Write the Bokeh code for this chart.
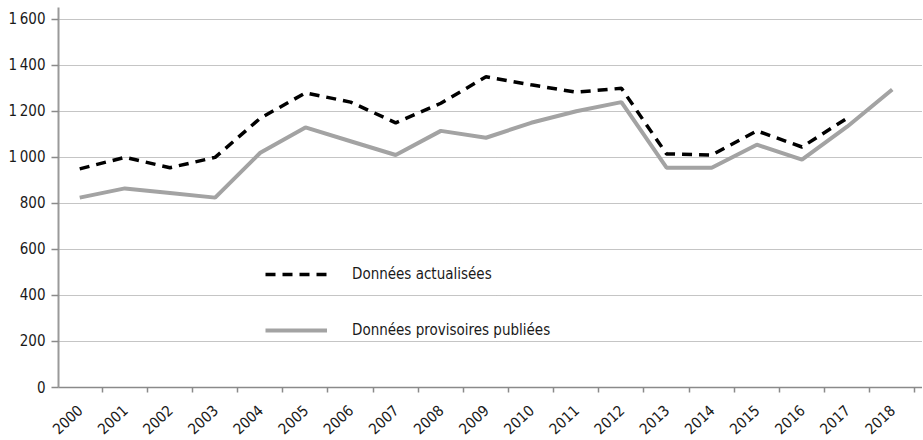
import numpy as np
from bokeh.plotting import figure
from bokeh.models import FixedTicker, Legend, LegendItem, Range1d
from bokeh.embed import file_html
from bokeh.resources import INLINE

# ---- data ----
years = ["2000", "2001", "2002", "2003", "2004", "2005", "2006", "2007", "2008", "2009",
         "2010", "2011", "2012", "2013", "2014", "2015", "2016", "2017", "2018"]
actualisees = [950, 1000, 955, 1000, 1170, 1280, 1240, 1150, 1235, 1350,
               1315, 1283, 1300, 1015, 1010, 1115, 1045, 1170, np.nan]
provisoires = [825, 865, 845, 825, 1020, 1130, 1070, 1010, 1115, 1085,
               1150, 1200, 1240, 955, 955, 1055, 990, 1133, 1295]
y_ticks = [0, 200, 400, 600, 800, 1000, 1200, 1400, 1600]
y_tick_labels = ["0", "200", "400", "600", "800",
                 "1\u2009000", "1\u2009200", "1\u2009400", "1\u2009600"]
legend_labels = ["Données actualisées", "Données provisoires publiées"]

FONT = "DejaVu Sans Condensed"

n = len(years)
x = np.arange(n) + 0.5
boundaries = list(range(1, n + 1))

p = figure(frame_width=864, frame_height=380,
           x_range=Range1d(0.03, n + 0.17), y_range=Range1d(0, 1651),
           output_backend="svg", toolbar_location=None,
           min_border_left=58, min_border_right=0, min_border_top=7, min_border_bottom=52)
p.outline_line_color = None
p.background_fill_color = "white"
p.border_fill_color = "white"

# grid
p.xgrid.visible = False
p.ygrid.grid_line_color = "#8a8a8a"
p.ygrid.grid_line_dash = "1 1"
p.ygrid.grid_line_width = 1

# x axis
xa = p.xaxis[0]
xa.ticker = FixedTicker(ticks=list(x), minor_ticks=boundaries)
xa.major_label_overrides = {float(xi): yr for xi, yr in zip(x, years)}
xa.major_tick_out = 0
xa.major_tick_in = 0
xa.major_tick_line_color = None
xa.minor_tick_out = 5
xa.minor_tick_in = 0
xa.minor_tick_line_color = "#8a8a8a"
xa.minor_tick_line_width = 1.5
xa.axis_line_color = "#8a8a8a"
xa.axis_line_width = 1.5
xa.major_label_orientation = 0.75
xa.major_label_text_font = FONT
xa.major_label_text_font_size = "15px"
xa.major_label_text_color = "#1a1a1a"
xa.major_label_standoff = 15

# y axis
ya = p.yaxis[0]
ya.ticker = FixedTicker(ticks=y_ticks)
ya.major_label_overrides = {t: l for t, l in zip(y_ticks, y_tick_labels)}
ya.major_tick_out = 7
ya.major_tick_in = 0
ya.major_tick_line_color = "#8a8a8a"
ya.major_tick_line_width = 1.5
ya.minor_tick_out = 0
ya.minor_tick_in = 0
ya.axis_line_color = "#9a9a9a"
ya.axis_line_width = 2
ya.major_label_text_font = FONT
ya.major_label_text_font_size = "15px"
ya.major_label_text_color = "#1a1a1a"
ya.major_label_standoff = 6

# series
r_prov = p.line(x, provisoires, line_color="#a3a3a3", line_width=4)
r_act = p.line(x, actualisees, line_color="black", line_width=3.5, line_dash="10 7")

legend = Legend(items=[LegendItem(label=legend_labels[0], renderers=[r_act]),
                       LegendItem(label=legend_labels[1], renderers=[r_prov])],
                location=(207, 47), orientation="vertical",
                glyph_width=62, glyph_height=20, label_height=20, spacing=36,
                padding=0, margin=0, border_line_color=None,
                background_fill_alpha=0, label_standoff=25,
                label_text_font=FONT, label_text_font_size="15px",
                label_text_color="#1a1a1a")
p.add_layout(legend, "center")

open("out.html", "w").write(file_html(p, INLINE))
